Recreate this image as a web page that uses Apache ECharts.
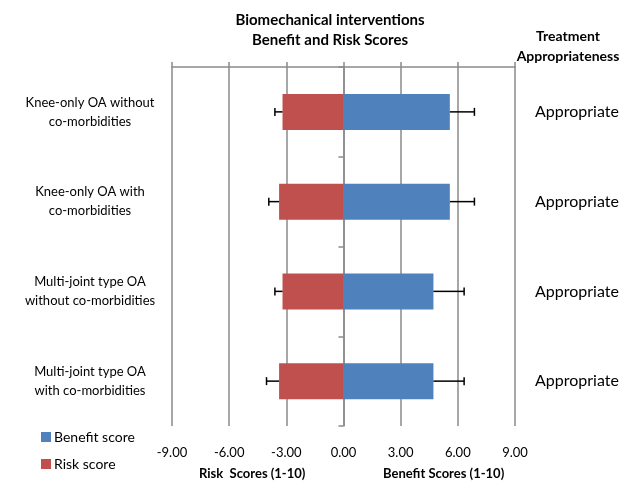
<!DOCTYPE html>
<html>
<head>
<meta charset="utf-8">
<script src="https://cdn.jsdelivr.net/npm/echarts@6/dist/echarts.min.js"></script>
<style>
html,body{margin:0;padding:0;background:#fff;}
#chart{width:632px;height:484px;}
</style>
</head>
<body>
<div id="chart"></div>
<script>
// ---- data ----
var categories = [
  'Knee-only OA without\nco-morbidities',
  'Knee-only OA with\nco-morbidities',
  'Multi-joint type OA\nwithout co-morbidities',
  'Multi-joint type OA\nwith co-morbidities'
];
var benefitScore = [5.58, 5.58, 4.72, 4.72];
var benefitSD    = [1.29, 1.29, 1.61, 1.61];
var riskScore    = [3.2, 3.38, 3.2, 3.38];
var riskSD       = [0.4, 0.54, 0.4, 0.66];
var appropriateness = ['Appropriate', 'Appropriate', 'Appropriate', 'Appropriate'];
var xTicks = [-9, -6, -3, 0, 3, 6, 9];
var titleText = 'Biomechanical interventions\nBenefit and Risk Scores';
var rightTitle = 'Treatment\nAppropriateness';
var riskAxisName = 'Risk  Scores (1-10)';
var benefitAxisName = 'Benefit Scores (1-10)';
var legendNames = ['Benefit score', 'Risk score'];

var FONT = 'Lato, "Open Sans", sans-serif';
var BLUE = '#4F81BD', RED = '#C0504D', GRID = '#8a8a8a';

var riskValues = riskScore.map(function (v) { return -v; });
var benefitErr = benefitScore.map(function (v, i) { return [i, v, v + benefitSD[i]]; });
var riskErr = riskScore.map(function (v, i) { return [i, -v, -v - riskSD[i]]; });

function errRender(params, api) {
  var c = api.value(0);
  var p1 = api.coord([api.value(1), c]);
  var p2 = api.coord([api.value(2), c]);
  var h = 4;
  var st = { stroke: '#000', lineWidth: 1.5 };
  return {
    type: 'group',
    children: [
      { type: 'line', shape: { x1: p1[0], y1: p1[1], x2: p2[0], y2: p2[1] }, style: st },
      { type: 'line', shape: { x1: p2[0], y1: p2[1] - h, x2: p2[0], y2: p2[1] + h }, style: st }
    ]
  };
}

var chart = echarts.init(document.getElementById('chart'));
chart.setOption({
  animation: false,
  textStyle: { fontFamily: FONT },
  title: [
    { text: titleText, left: 325, top: 5, textAlign: 'center',
      textStyle: { fontSize: 15, fontWeight: 'bold', color: '#000', lineHeight: 20, fontFamily: FONT } },
    { text: rightTitle, left: 563, top: 21, textAlign: 'center',
      textStyle: { fontSize: 14, fontWeight: 'bold', color: '#000', lineHeight: 20, fontFamily: FONT } }
  ],
  legend: {
    orient: 'vertical', left: 36, top: 425, itemWidth: 10, itemHeight: 10, itemGap: 13,
    icon: 'rect', data: legendNames,
    textStyle: { fontSize: 14, color: '#000', fontFamily: FONT, padding: [0, 0, 0, -2] }
  },
  grid: { left: 172, right: 117, top: 67, bottom: 58, containLabel: false, outerBoundsMode: 'none' },
  xAxis: [
    { type: 'value', position: 'top', min: xTicks[0], max: xTicks[xTicks.length - 1], interval: 3,
      axisLine: { show: true, lineStyle: { color: GRID, width: 1.5 } },
      axisTick: { show: true, length: 5, lineStyle: { color: GRID, width: 1.5 } },
      axisLabel: { show: false },
      splitLine: { show: true, lineStyle: { color: GRID, width: 1.5 } } },
    { type: 'value', position: 'bottom', min: xTicks[0], max: xTicks[xTicks.length - 1], interval: 3,
      axisLine: { show: false }, axisTick: { show: false }, splitLine: { show: false },
      axisLabel: { show: true, margin: 20, fontSize: 13, color: '#000', fontFamily: FONT,
        formatter: function (v) { return v.toFixed(2); } } }
  ],
  yAxis: [
    { type: 'category', data: categories, inverse: true,
      axisLine: { show: true, onZero: true, lineStyle: { color: GRID, width: 1.5 } },
      axisTick: { show: true, length: 5, lineStyle: { color: GRID, width: 1.5 } },
      axisLabel: { show: false } },
    { type: 'category', data: appropriateness, inverse: true, position: 'right',
      axisLine: { show: false }, axisTick: { show: false },
      axisLabel: { show: true, margin: 20, align: 'left', fontSize: 16, color: '#000', fontFamily: FONT } },
    { type: 'category', data: categories, inverse: true, position: 'left', offset: 0,
      axisLine: { show: false, onZero: false }, axisTick: { show: false },
      axisLabel: { show: true, margin: 82, align: 'center', fontSize: 13, lineHeight: 19, color: '#000', fontFamily: FONT } }
  ],
  series: [
    { name: legendNames[0], type: 'bar', data: benefitScore, barWidth: 36, barGap: '-100%',
      itemStyle: { color: BLUE } },
    { name: legendNames[1], type: 'bar', data: riskValues, barWidth: 36, barGap: '-100%',
      itemStyle: { color: RED } },
    { type: 'custom', renderItem: errRender, data: benefitErr, z: 5,
      encode: { x: [1, 2], y: 0 } },
    { type: 'custom', renderItem: errRender, data: riskErr, z: 5,
      encode: { x: [1, 2], y: 0 } }
  ],
  graphic: [
    { type: 'text', left: 199, top: 467, style: { text: riskAxisName, font: 'bold 13px ' + FONT, fill: '#000' } },
    { type: 'text', left: 383, top: 467, style: { text: benefitAxisName, font: 'bold 13px ' + FONT, fill: '#000' } }
  ]
});
</script>
</body>
</html>
